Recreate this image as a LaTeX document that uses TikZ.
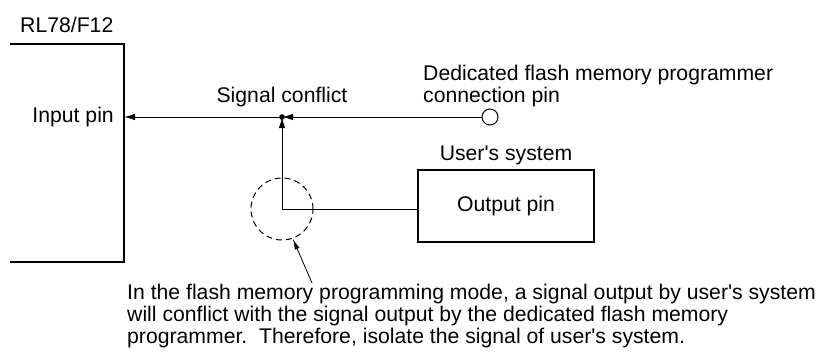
\documentclass[tikz,border=0pt]{standalone}
\usepackage{fontspec}
\setmainfont{Liberation Sans}[Ligatures=TeXOff]
\usetikzlibrary{arrows.meta}
\begin{document}
\begin{tikzpicture}[x=1pt,y=-1pt,
  font=\fontsize{21.2}{22}\selectfont,
  wire/.style={line width=1pt},
  arr/.style={wire,-{Latex[length=11pt,width=6.5pt]}},
  heavy/.style={line width=2.2pt},
  lbl/.style={inner sep=0pt}]
\useasboundingbox (0,0) rectangle (826,351);
% RL78/F12 block (open at left)
\node[lbl,anchor=west] (mcu) at (20,25) {RL78/F12};
\coordinate (mtl) at (10,44);
\coordinate (mtr) at (124,44);
\coordinate (mbr) at (124,262);
\coordinate (mbl) at (10,262);
\draw[heavy] (mtl) -- (mtr) -- (mbr) -- (mbl);
\node[lbl,anchor=east] (inpin) at (114,117) {Input pin};
\coordinate (inp) at (124,117);
% junction
\coordinate (dot) at (282,117);
\fill (dot) circle (2.8);
\node[lbl] (conf) at (282,97) {Signal conflict};
% programmer pin
\node[circle,draw,wire,minimum size=16pt,inner sep=0pt] (pin) at (490,117) {};
\node[lbl,anchor=west,align=left] (prog) at (423,86) {Dedicated flash memory programmer\\connection pin};
% user's system
\node[draw,heavy,minimum width=176pt,minimum height=72pt,inner sep=0pt] (user) at (506,206) {Output pin};
\node[lbl] (ulbl) at (506,155) {User's system};
% connections
\coordinate (corner) at (282,209);
\draw[arr] (dot) -- (inp);
\draw[arr] (pin) -- (dot);
\draw[wire] (user.west |- corner) -- (corner);
\draw[arr] (corner) -- (dot);
% isolation circle
\node[circle,draw,wire,dash pattern=on 6pt off 4pt,minimum size=62pt,inner sep=0pt] (iso) at (corner) {};
\coordinate (ptr) at (312,283);
\draw[line width=0.8pt,-{Latex[length=11pt,width=5pt]}] (ptr) -- (iso.-70);
% note
\node[lbl,anchor=base west,align=left] (note) at (127,343.5) {In the flash memory programming mode, a signal output by user's system\\will conflict with the signal output by the dedicated flash memory\\programmer.\ \ Therefore, isolate the signal of user's system.};
\end{tikzpicture}
\end{document}
